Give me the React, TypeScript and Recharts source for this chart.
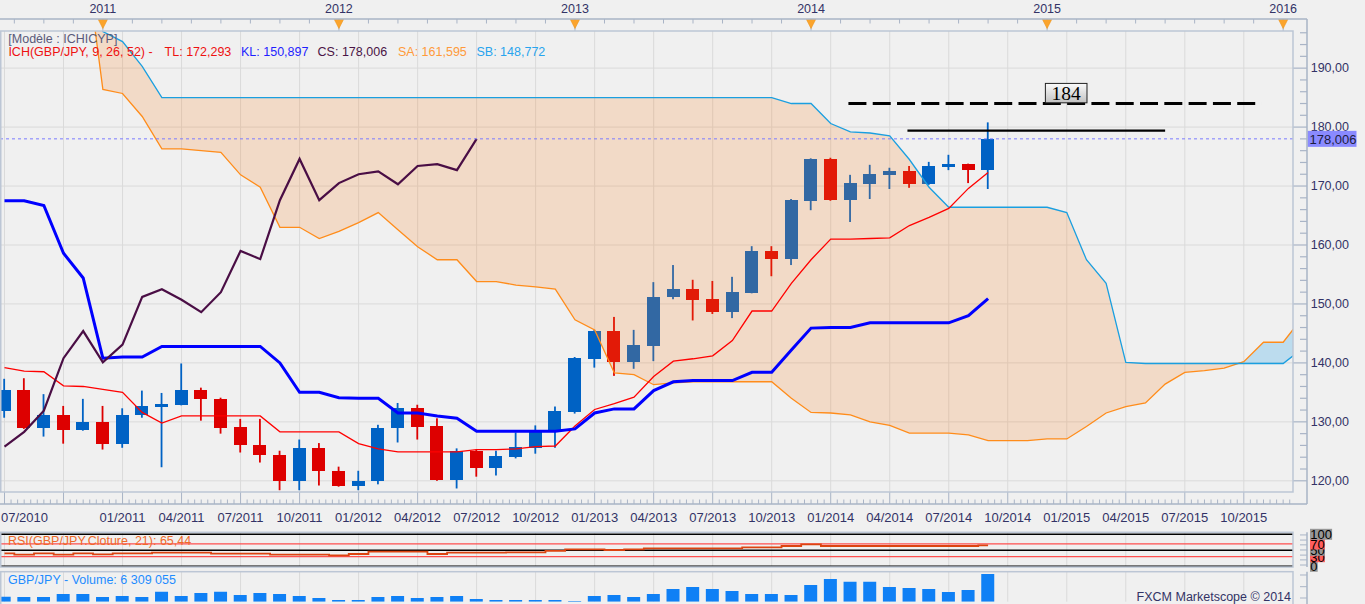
import React from 'react';
import {
  ComposedChart, Bar, Line, Area, XAxis, YAxis, CartesianGrid,
  ReferenceLine, ReferenceDot,
} from 'recharts';

// ---------------- data (monthly GBP/JPY, index 0 = 07/2010) ----------------
const candleOpen = [131.9,135.4,129.0,131.2,128.7,130.0,126.2,131.1,132.6,132.9,135.4,133.9,129.2,126.1,124.4,119.9,125.6,121.7,119.2,119.9,128.9,132.4,129.3,120.2,125.1,122.1,124.1,125.6,128.4,131.7,140.7,145.4,140.1,142.9,151.1,152.5,150.8,148.6,151.9,159.0,157.6,167.5,174.6,167.6,170.3,171.9,172.5,170.3,173.2,173.7,172.7];
const candleHigh = [137.3,137.4,134.7,132.7,133.9,132.7,132.3,135.3,134.9,139.9,135.8,134.1,130.5,130.5,125.1,127.0,126.4,122.4,121.7,129.5,133.2,132.9,130.6,125.5,125.3,125.1,128.2,129.4,132.6,141.0,145.6,147.8,145.6,153.7,156.6,154.1,153.9,154.6,159.8,159.8,167.8,174.7,174.8,171.9,173.6,173.1,173.4,174.1,175.3,173.8,180.8];
const candleLow = [130.7,128.8,127.5,126.3,128.5,125.3,125.6,130.7,122.3,132.8,130.2,128.0,124.8,123.1,118.4,118.4,119.2,119.0,118.4,119.4,126.5,127.0,120.0,118.7,120.7,120.9,123.8,124.6,125.6,131.4,139.2,137.8,139.0,140.3,150.8,147.2,148.3,147.6,151.8,154.7,156.6,165.9,167.5,163.9,167.8,169.5,169.7,170.2,172.7,170.5,169.5];
const candleClose = [135.4,129.0,131.2,128.7,130.0,126.2,131.2,132.7,133.1,135.4,133.8,129.0,126.0,124.3,119.9,125.6,121.6,119.2,120.0,129.0,132.4,129.2,120.2,125.0,122.1,124.2,125.8,128.3,131.9,140.8,145.4,140.1,143.1,151.2,152.5,150.7,148.6,152.0,159.0,157.6,167.6,174.6,167.6,170.5,172.0,172.5,170.3,173.4,173.7,172.7,178.006];
const tenkan = [139.2,138.6,138.5,136.1,136.0,135.5,135.0,131.6,129.8,131.0,131.0,131.0,131.0,131.0,128.3,128.3,128.3,128.3,126.3,125.4,124.9,124.9,124.9,124.9,125.3,125.3,125.4,125.8,125.9,129.3,132.1,133.1,134.2,137.7,140.3,140.7,141.2,143.8,148.8,148.8,153.5,157.5,161.0,161.0,161.1,161.2,163.3,164.7,166.2,169.6,172.3];
const kijun = [167.5,167.5,166.7,158.6,154.4,140.8,141.0,141.0,142.8,142.8,142.8,142.8,142.8,142.8,140.0,135.0,135.0,134.1,134.0,134.0,131.5,131.5,131.0,130.6,128.4,128.4,128.4,128.4,128.4,128.8,131.5,132.2,132.2,135.3,136.8,137.0,137.0,137.0,138.4,138.4,142.2,145.9,146.0,146.0,146.8,146.8,146.8,146.8,146.8,148.0,150.9];
// Senkou spans as plotted, starting at index 4 (first value lies above the chart)
const SENKOU_FIRST = 4;
const senkouA = [212,186.4,185.7,181.8,176.3,176.3,176.0,175.7,171.9,169.8,
  163.0,163.0,161.1,162.3,163.8,165.5,162.6,159.7,157.5,157.5,
  153.8,153.8,153.2,152.9,152.5,147.3,145.6,138.3,138.0,136.3,
  136.6,136.8,136.8,136.8,136.8,136.8,134.0,131.6,131.5,131.2,
  130.0,129.4,128.1,128.1,128.1,127.8,126.8,126.8,126.8,127.1,
  127.1,129.2,131.5,132.6,133.2,136.4,138.4,138.7,139.1,140.2,
  143.5,143.5,147.8];
const senkouB = [212,196.2,194.5,190.3,
  185.0,185.0,185.0,185.0,185.0,185.0,185.0,185.0,185.0,185.0,185.0,185.0,185.0,185.0,185.0,185.0,
  185.0,185.0,185.0,185.0,185.0,185.0,185.0,185.0,185.0,185.0,185.0,185.0,185.0,185.0,185.0,185.0,
  184.0,184.0,180.6,179.2,179.0,178.5,174.5,169.8,166.4,
  166.4,166.4,166.4,166.4,166.4,
  165.5,157.5,153.5,140.1,
  139.9,139.9,139.9,139.9,139.9,139.9,139.9,139.9,
  142.5];
const CHIKOU_SHIFT = 26;
const rsi21 = [40.6,36.4,40.6,36.4,40.6,37.5,40.6,40.6,42.7,42.7,42.7,39.6,39.6,39.6,36.4,36.4,36.4,34.4,38.5,45.8,45.8,45.8,38.5,42.7,42.7,42.7,43.7,43.7,47.9,53.1,53.1,51.0,53.1,56.2,56.2,56.2,56.2,56.2,59.4,59.4,63.5,68.7,63.5,63.5,63.5,63.5,63.5,63.5,63.5,63.5,65.4];
const volume = [1140000,1070000,1070000,1750000,1750000,1070000,1300000,1070000,2280000,1300000,1980000,2280000,1530000,1980000,1750000,1300000,840000,390000,390000,1070000,1300000,840000,1070000,1300000,615000,390000,390000,390000,390000,160000,1300000,1530000,1070000,1750000,2890000,3350000,2890000,2440000,1750000,1750000,1530000,3800000,5170000,4560000,4560000,3350000,3120000,2890000,2210000,2670000,6309055];

const monthTicks = [
  { i: 0, label: '07/2010' }, { i: 6, label: '01/2011' }, { i: 9, label: '04/2011' },
  { i: 12, label: '07/2011' }, { i: 15, label: '10/2011' }, { i: 18, label: '01/2012' },
  { i: 21, label: '04/2012' }, { i: 24, label: '07/2012' }, { i: 27, label: '10/2012' },
  { i: 30, label: '01/2013' }, { i: 33, label: '04/2013' }, { i: 36, label: '07/2013' },
  { i: 39, label: '10/2013' }, { i: 42, label: '01/2014' }, { i: 45, label: '04/2014' },
  { i: 48, label: '07/2014' }, { i: 51, label: '10/2014' }, { i: 54, label: '01/2015' },
  { i: 57, label: '04/2015' }, { i: 60, label: '07/2015' }, { i: 63, label: '10/2015' },
];
const yearMarkers = [
  { i: 5, label: '2011' }, { i: 17, label: '2012' }, { i: 29, label: '2013' },
  { i: 41, label: '2014' }, { i: 53, label: '2015' }, { i: 65, label: '2016' },
];
const quarterGrid = [0,3,6,9,12,15,18,21,24,27,30,33,36,39,42,45,48,51,54,57,60,63];
const priceLabels = [120,130,140,150,160,170,180,190];
const LAST_CLOSE = 178.006;
const levels = [
  { y: 184, from: 42.9, to: 63.9, dashed: true },
  { y: 179.4, from: 45.9, to: 59.0, dashed: false },
];
const LEVEL_LABEL = { i: 53.97, y: 184, text: '184' };
const rsiLevels = [
  { v: 0, bg: '#979797' }, { v: 30, bg: '#ff5e5e' }, { v: 50, bg: '#979797' },
  { v: 70, bg: '#ff5e5e' }, { v: 100, bg: '#979797' },
];
const rsiMinor = [4, 20, 35, 51, 67, 82, 98];
const volMinor = [840000, 3415000, 6080000];

// ---------------- layout / style ----------------
const W = 1365;
const PLOT_RIGHT = 1293;
const AXIS_X = 1307;
const X_DOMAIN: [number, number] = [-0.229, 65.5];
const PRICE_DOMAIN: [number, number] = [118.1, 196.3];
const FONT = '"Liberation Sans", Arial, sans-serif';
const NAVY = '#333366';
const FRAME = '#a9b4c6';
const BORDER = '#bcc6d5';
const GRID = '#dadada';
const BULL = '#0062c4';
const BEAR = '#dd0000';

const near = (a: number, b: number) => Math.abs(a - b) < 1e-6;

const rows = Array.from({ length: 67 }, (_, i) => {
  const r: any = { i };
  if (i < candleClose.length) {
    r.open = candleOpen[i]; r.high = candleHigh[i]; r.low = candleLow[i]; r.close = candleClose[i];
    r.range = [candleLow[i], candleHigh[i]];
    r.tl = tenkan[i]; r.kl = kijun[i]; r.rsi = rsi21[i]; r.vol = volume[i];
  }
  if (i + CHIKOU_SHIFT < candleClose.length) r.cs = candleClose[i + CHIKOU_SHIFT];
  const k = i - SENKOU_FIRST;
  if (k >= 0 && k < senkouA.length) {
    const a = senkouA[k]; const b = senkouB[k]; const m = Math.max(a, b);
    r.sa = a; r.sb = b; r.bear = [a, m]; r.bull = [b, m];
  }
  return r;
});

const topTicks = Array.from({ length: 44 }, (_, k) => 0.5 + 1.5 * k);
const bottomTicks = Array.from({ length: 197 }, (_, k) => k / 3);
const priceTicks = [...Array.from({ length: 39 }, (_, k) => 120 + 2 * k), LAST_CLOSE];

const Candle = (props: any) => {
  const { x, y, width, height, payload } = props;
  if (!payload || payload.open == null) return null;
  const { open, close, high, low } = payload;
  const top = Math.min(y, y + height);
  const h = Math.abs(height);
  const ppu = h / (high - low);
  const yOf = (v: number) => top + (high - v) * ppu;
  const cx = x + width / 2;
  const bTop = yOf(Math.max(open, close));
  const bBot = yOf(Math.min(open, close));
  const color = close >= open ? BULL : BEAR;
  return (
    <g>
      <rect x={cx - 0.9} y={top} width={1.8} height={h} fill={color} />
      <rect x={x} y={bTop} width={width} height={Math.max(bBot - bTop, 1.5)} fill={color} shapeRendering="crispEdges" />
    </g>
  );
};

const TopTick = (props: any) => {
  const { x, payload } = props;
  const yr = yearMarkers.find((m) => near(m.i, payload.value));
  return (
    <g>
      <line x1={x} x2={x} y1={19} y2={23.5} stroke={FRAME} strokeWidth={1} />
      {yr && (
        <g>
          <line x1={x} x2={x} y1={19} y2={31} stroke={FRAME} strokeWidth={1} />
          <polygon points={`${x - 4.6},19.5 ${x + 4.6},19.5 ${x},28.5`} fill="#fba42c" stroke="#ef9418" strokeWidth={0.6} />
          <text x={x} y={9} textAnchor="middle" dominantBaseline="central" fontFamily={FONT} fontSize={12.5} fill={NAVY}>{yr.label}</text>
        </g>
      )}
    </g>
  );
};

const BottomTick = (props: any) => {
  const { x, payload } = props;
  const v = payload.value;
  const quarter = near(v / 3, Math.round(v / 3));
  const lab = monthTicks.find((m) => near(m.i, v));
  return (
    <g>
      <line x1={x} x2={x} y1={quarter ? 492 : 499.5} y2={504} stroke={FRAME} strokeWidth={1} />
      {lab && (
        <text x={lab.i === 0 ? 1 : x} y={517.7} textAnchor={lab.i === 0 ? 'start' : 'middle'} dominantBaseline="central"
          fontFamily={FONT} fontSize={13} fill={NAVY}>{lab.label}</text>
      )}
    </g>
  );
};

const PriceTick = (props: any) => {
  const { y, payload } = props;
  const v = payload.value;
  if (near(v, LAST_CLOSE)) {
    return (
      <g>
        <rect x={1307.5} y={y - 8} width={49} height={16} fill="#8a8aff" />
        <text x={1309.5} y={y + 0.5} dominantBaseline="central" fontFamily={FONT} fontSize={13} fill="#1c1c40">
          {LAST_CLOSE.toFixed(3).replace('.', ',')}
        </text>
      </g>
    );
  }
  const major = priceLabels.some((p) => near(p, v));
  return (
    <g>
      <line x1={major ? PLOT_RIGHT : PLOT_RIGHT + 7} x2={AXIS_X} y1={y} y2={y} stroke={FRAME} strokeWidth={1.2} />
      {major && (
        <text x={1310.7} y={y} dominantBaseline="central" fontFamily={FONT} fontSize={12.5} fill={NAVY}>
          {v.toFixed(2).replace('.', ',')}
        </text>
      )}
    </g>
  );
};

const RsiTick = (props: any) => {
  const { y, payload } = props;
  const v = payload.value;
  const lab = rsiLevels.find((l) => near(l.v, v));
  if (!lab) return <line x1={1300} x2={AXIS_X} y1={y} y2={y} stroke={FRAME} strokeWidth={1} />;
  const txt = String(v);
  return (
    <g>
      <rect x={1310} y={y - 5.5} width={txt.length * 7.2 + 0.5} height={11} fill={lab.bg} />
      <text x={1310.3} y={y + 0.5} dominantBaseline="central" fontFamily={FONT} fontSize={13} fill="#000">{txt}</text>
    </g>
  );
};

const VolTick = (props: any) => {
  const { y } = props;
  return <line x1={1300} x2={AXIS_X} y1={y} y2={y} stroke={FRAME} strokeWidth={1} />;
};

const LevelLabel = (props: any) => {
  const { cx, cy } = props;
  if (cx == null || cy == null) return null;
  return (
    <g>
      <defs>
        <linearGradient id="lvlGrad" x1="0" y1="0" x2="0" y2="1">
          <stop offset="0" stopColor="#fbfbfb" />
          <stop offset="1" stopColor="#c2c2c2" />
        </linearGradient>
      </defs>
      <rect x={cx - 20.8} y={cy - 20.1} width={41.6} height={19.4} fill="url(#lvlGrad)" stroke="#222" strokeWidth={1} />
      <text x={cx} y={cy - 10} textAnchor="middle" dominantBaseline="central"
        fontFamily='"Liberation Serif", "DejaVu Serif", serif' fontSize={19.5} fill="#000">{LEVEL_LABEL.text}</text>
    </g>
  );
};

export default function App() {
  return (
    <div style={{ position: 'relative', width: W, height: 604, background: '#f0f0f0', overflow: 'hidden' }}>
      <style>{'body{margin:0;background:#f0f0f0;}'}</style>

      {/* main price panel */}
      <div style={{ position: 'absolute', left: 0, top: 0 }}>
        <ComposedChart width={W} height={530} data={rows} margin={{ top: 0, right: 0, bottom: 0, left: 0 }}>
          <CartesianGrid xAxisId="m" yAxisId="p" stroke={GRID} strokeWidth={1}
            horizontalValues={priceLabels} verticalValues={quarterGrid} />
          <XAxis xAxisId="top" orientation="top" type="number" dataKey="i" domain={X_DOMAIN} allowDataOverflow
            height={31} ticks={topTicks} interval={0} tick={<TopTick />} tickLine={false} axisLine={false} />
          <XAxis xAxisId="m" orientation="bottom" type="number" dataKey="i" domain={X_DOMAIN} allowDataOverflow
            height={38} ticks={bottomTicks} interval={0} tick={<BottomTick />} tickLine={false} axisLine={false} />
          <YAxis yAxisId="p" orientation="right" type="number" domain={PRICE_DOMAIN} allowDataOverflow width={72}
            ticks={priceTicks} interval={0} tick={<PriceTick />} tickLine={false} axisLine={false} />

          <Bar xAxisId="m" yAxisId="p" dataKey="range" barSize={13} shape={<Candle />} isAnimationActive={false} zIndex={200} />

          <Area xAxisId="m" yAxisId="p" type="linear" dataKey="bear" stroke="none" fill="#fa8223" fillOpacity={0.2}
            isAnimationActive={false} dot={false} activeDot={false} zIndex={250} />
          <Area xAxisId="m" yAxisId="p" type="linear" dataKey="bull" stroke="none" fill="#1ea0e6" fillOpacity={0.25}
            isAnimationActive={false} dot={false} activeDot={false} zIndex={250} />

          <Line xAxisId="m" yAxisId="p" type="linear" dataKey="sa" stroke="#ff8c1a" strokeWidth={1.3} dot={false} activeDot={false} isAnimationActive={false} zIndex={400} />
          <Line xAxisId="m" yAxisId="p" type="linear" dataKey="sb" stroke="#1a9fe0" strokeWidth={1.3} dot={false} activeDot={false} isAnimationActive={false} zIndex={400} />
          <Line xAxisId="m" yAxisId="p" type="linear" dataKey="tl" stroke="#ff0000" strokeWidth={1.3} dot={false} activeDot={false} isAnimationActive={false} zIndex={400} />
          <Line xAxisId="m" yAxisId="p" type="linear" dataKey="kl" stroke="#0000ff" strokeWidth={3} dot={false} activeDot={false} isAnimationActive={false} zIndex={400} />
          <Line xAxisId="m" yAxisId="p" type="linear" dataKey="cs" stroke="#4a0e45" strokeWidth={2.2} dot={false} activeDot={false} isAnimationActive={false} zIndex={400} />

          <ReferenceLine xAxisId="m" yAxisId="p" y={LAST_CLOSE} stroke="#7b7bff" strokeWidth={1} strokeDasharray="3 3" zIndex={450} />
          {levels.map((l, k) => (
            <ReferenceLine key={k} xAxisId="m" yAxisId="p" segment={[{ x: l.from, y: l.y }, { x: l.to, y: l.y }]}
              stroke="#000" strokeWidth={l.dashed ? 2.8 : 2.4} strokeDasharray={l.dashed ? '18 6.3' : undefined} zIndex={450} />
          ))}
          <ReferenceDot xAxisId="m" yAxisId="p" x={LEVEL_LABEL.i} y={LEVEL_LABEL.y} r={1} shape={<LevelLabel />} zIndex={460} />
        </ComposedChart>
      </div>

      {/* RSI panel */}
      <div style={{ position: 'absolute', left: 0, top: 526 }}>
        <ComposedChart width={W} height={52} data={rows} margin={{ top: 6.3, right: 0, bottom: 11, left: 0 }}>
          <CartesianGrid xAxisId="r" yAxisId="rsi" stroke={GRID} horizontal={false} verticalValues={quarterGrid} />
          <XAxis xAxisId="r" type="number" dataKey="i" domain={X_DOMAIN} allowDataOverflow hide />
          <YAxis yAxisId="rsi" orientation="right" type="number" domain={[-2.2, 106.25]} allowDataOverflow width={72}
            ticks={[...rsiMinor, ...rsiLevels.map((l) => l.v)]} interval={0} tick={<RsiTick />} tickLine={false} axisLine={false} />
          <ReferenceLine xAxisId="r" yAxisId="rsi" y={70} stroke="#ff4f4f" strokeWidth={1.3} />
          <ReferenceLine xAxisId="r" yAxisId="rsi" y={30} stroke="#ff4f4f" strokeWidth={1.3} />
          <ReferenceLine xAxisId="r" yAxisId="rsi" y={100} stroke="#000" strokeWidth={1.5} />
          <ReferenceLine xAxisId="r" yAxisId="rsi" y={50} stroke="#000" strokeWidth={1.5} />
          <ReferenceLine xAxisId="r" yAxisId="rsi" y={0} stroke="#000" strokeWidth={1.5} />
          <Line xAxisId="r" yAxisId="rsi" type="step" dataKey="rsi" stroke="#dc4410" strokeWidth={1.8} dot={false} activeDot={false} isAnimationActive={false} zIndex={500} />
        </ComposedChart>
      </div>

      {/* Volume panel */}
      <div style={{ position: 'absolute', left: 0, top: 568 }}>
        <ComposedChart width={W} height={36} data={rows} margin={{ top: 3.7, right: 0, bottom: 2.3, left: 0 }}>
          <CartesianGrid xAxisId="v" yAxisId="vol" stroke={GRID} horizontal={false} verticalValues={quarterGrid} />
          <XAxis xAxisId="v" type="number" dataKey="i" domain={X_DOMAIN} allowDataOverflow hide />
          <YAxis yAxisId="vol" orientation="right" type="number" domain={[0, 6830000]} allowDataOverflow width={72}
            ticks={volMinor} interval={0} tick={<VolTick />} tickLine={false} axisLine={false} />
          <Bar xAxisId="v" yAxisId="vol" dataKey="vol" barSize={13} fill="#0f80f5" isAnimationActive={false} />
        </ComposedChart>
      </div>

      {/* frame + texts overlay */}
      <svg width={W} height={604} style={{ position: 'absolute', left: 0, top: 0, pointerEvents: 'none' }}>
        <line x1={0} x2={AXIS_X} y1={19} y2={19} stroke={FRAME} strokeWidth={1.5} />
        <line x1={AXIS_X} x2={AXIS_X} y1={19} y2={504} stroke={FRAME} strokeWidth={1.5} />
        <line x1={0} x2={AXIS_X} y1={504} y2={504} stroke={FRAME} strokeWidth={1.5} />
        <rect x={0.75} y={31} width={PLOT_RIGHT - 0.75} height={461} fill="none" stroke={BORDER} strokeWidth={1.5} />
        <rect x={0.75} y={532.3} width={PLOT_RIGHT - 0.75} height={34.7} fill="none" stroke={BORDER} strokeWidth={1.5} />
        <line x1={AXIS_X} x2={AXIS_X} y1={532.3} y2={567} stroke={FRAME} strokeWidth={1.5} />
        <rect x={0.75} y={571.7} width={PLOT_RIGHT - 0.75} height={40} fill="none" stroke={BORDER} strokeWidth={1.5} />
        <line x1={AXIS_X} x2={AXIS_X} y1={571.7} y2={604} stroke={FRAME} strokeWidth={1.5} />

        <g fontFamily={FONT} fontSize={12.5} dominantBaseline="central">
          <text x={8.3} y={38.5} fill="#5a5a7a">[Modèle : ICHICYP]</text>
          <text x={8.4} y={51.7} fill="#ee1111">ICH(GBP/JPY, 9, 26, 52) -</text>
          <text x={164.6} y={51.7} fill="#ee1111">TL: 172,293</text>
          <text x={241} y={51.7} fill="#1f1fff">KL: 150,897</text>
          <text x={317.6} y={51.7} fill="#4a1446">CS: 178,006</text>
          <text x={398} y={51.7} fill="#ff9a3a">SA: 161,595</text>
          <text x={476.5} y={51.7} fill="#28a4ee">SB: 148,772</text>
          <text x={8} y={540.6} fill="#ee6a2a">RSI(GBP/JPY.Cloture, 21): 65,44</text>
          <text x={8} y={580.2} fill="#1e8cff">GBP/JPY - Volume: 6 309 055</text>
          <text x={1291} y={596.5} fill={NAVY} textAnchor="end">FXCM Marketscope © 2014</text>
        </g>
      </svg>
    </div>
  );
}
